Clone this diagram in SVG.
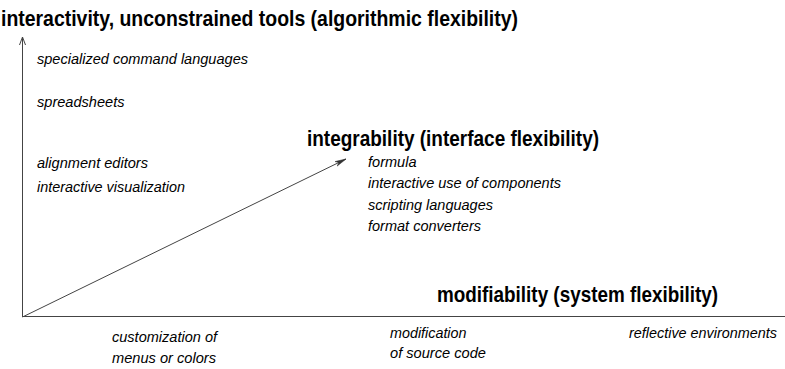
<svg xmlns="http://www.w3.org/2000/svg" width="785" height="369" viewBox="0 0 785 369">
<defs>
<style>
.h{font-family:"Liberation Sans",Arial,sans-serif;font-weight:bold;font-size:21.5px;fill:#000}
.t{font-family:"Liberation Sans",Arial,sans-serif;font-style:italic;font-size:15.5px;fill:#000}
.ax{stroke:#444;stroke-width:1;fill:none}
</style>
<marker id="open" markerWidth="10" markerHeight="8" refX="9" refY="4" orient="auto" markerUnits="userSpaceOnUse">
<path d="M1,1 L9,4 L1,7" fill="none" stroke="#444" stroke-width="1"/>
</marker>
<marker id="fill" markerWidth="12" markerHeight="8" refX="11" refY="4" orient="auto" markerUnits="userSpaceOnUse">
<path d="M0,1.5 L11,4 L0,6.5 L3,4 Z" fill="#333" stroke="#333" stroke-width="0.5"/>
</marker>
</defs>
<rect width="785" height="369" fill="#fff"/>
<g id="connectors">
<line class="ax" x1="22.5" y1="317" x2="22.5" y2="37" marker-end="url(#open)"/>
<line class="ax" x1="22" y1="316.5" x2="785" y2="316.5"/>
<line class="ax" x1="22.5" y1="317" x2="346" y2="159" marker-end="url(#fill)"/>
</g>
<g id="interactivity">
<text class="h" x="1" y="26" textLength="517" lengthAdjust="spacingAndGlyphs">interactivity, unconstrained tools (algorithmic flexibility)</text>
<text class="t" x="37" y="64" textLength="211" lengthAdjust="spacingAndGlyphs">specialized command languages</text>
<text class="t" x="37" y="107" textLength="87.5" lengthAdjust="spacingAndGlyphs">spreadsheets</text>
<text class="t" x="37" y="168" textLength="111" lengthAdjust="spacingAndGlyphs">alignment editors</text>
<text class="t" x="37" y="192" textLength="148" lengthAdjust="spacingAndGlyphs">interactive visualization</text>
</g>
<g id="integrability">
<text class="h" x="307" y="146" textLength="292" lengthAdjust="spacingAndGlyphs">integrability (interface flexibility)</text>
<text class="t" x="368" y="167" textLength="48.5" lengthAdjust="spacingAndGlyphs">formula</text>
<text class="t" x="368" y="188" textLength="193" lengthAdjust="spacingAndGlyphs">interactive use of components</text>
<text class="t" x="368" y="210" textLength="125" lengthAdjust="spacingAndGlyphs">scripting languages</text>
<text class="t" x="368" y="231" textLength="113" lengthAdjust="spacingAndGlyphs">format converters</text>
</g>
<g id="modifiability">
<text class="h" x="437" y="302" textLength="281" lengthAdjust="spacingAndGlyphs">modifiability (system flexibility)</text>
</g>
<g id="customization">
<text class="t" x="112" y="342" textLength="105" lengthAdjust="spacingAndGlyphs">customization of</text>
<text class="t" x="112" y="363" textLength="104" lengthAdjust="spacingAndGlyphs">menus or colors</text>
</g>
<g id="modification">
<text class="t" x="390" y="338" textLength="76.5" lengthAdjust="spacingAndGlyphs">modification</text>
<text class="t" x="390" y="358" textLength="96" lengthAdjust="spacingAndGlyphs">of source code</text>
</g>
<g id="reflective">
<text class="t" x="629" y="338" textLength="148" lengthAdjust="spacingAndGlyphs">reflective environments</text>
</g>
</svg>
